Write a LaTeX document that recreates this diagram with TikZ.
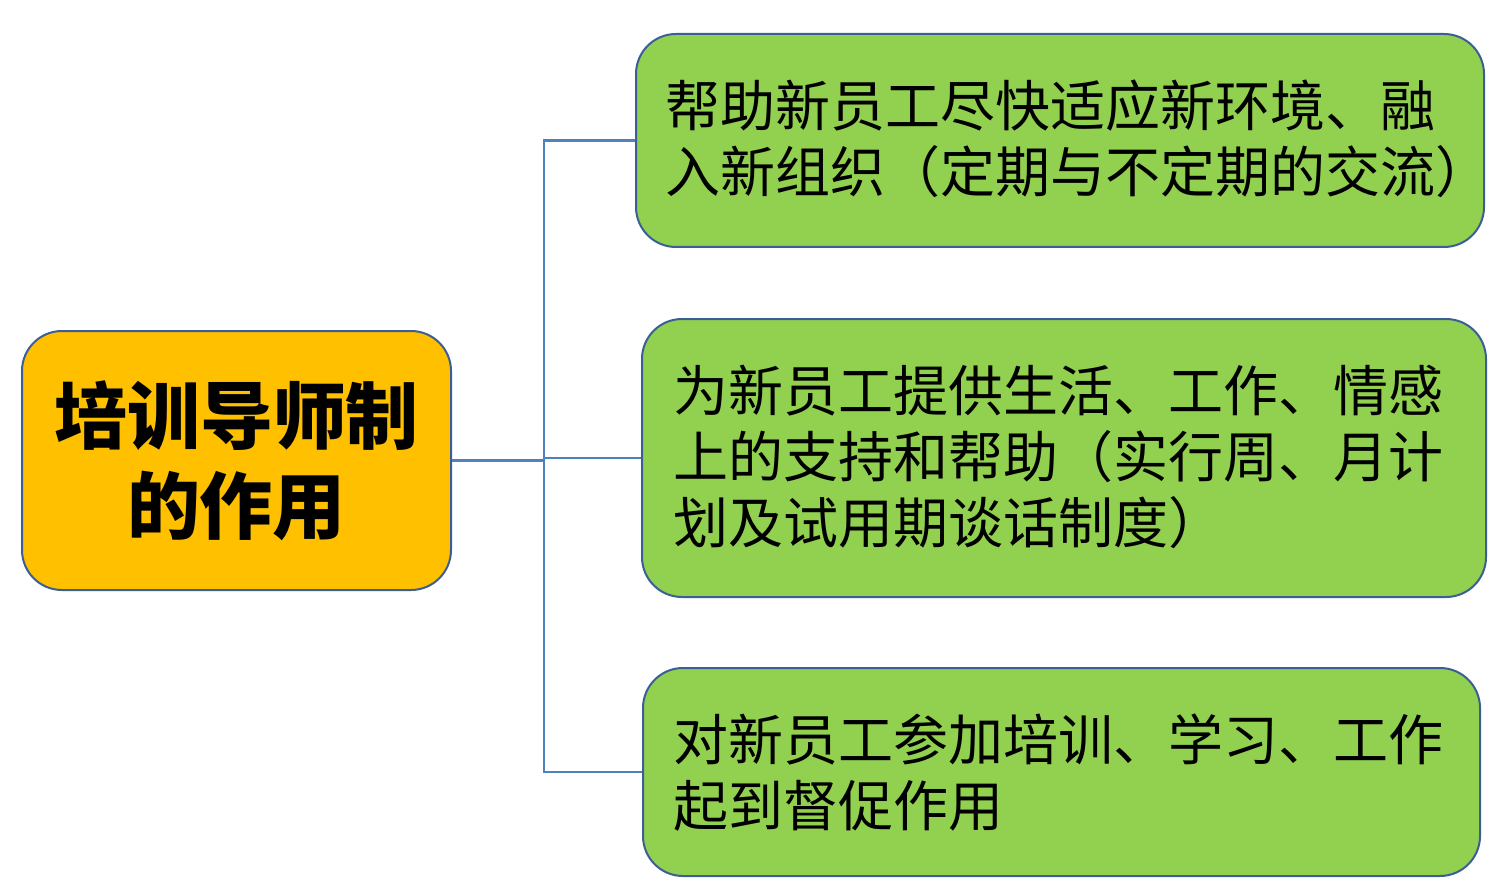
\documentclass[tikz,border=0pt]{standalone}
\usepackage{fontspec}
\newfontfamily\cjk{Noto Sans CJK SC}
\definecolor{bordc}{HTML}{3B5E96}
\definecolor{linec}{HTML}{4F81BD}
\definecolor{titlef}{HTML}{FFC000}
\definecolor{greenf}{HTML}{92D050}
\tikzset{
  titlebox/.style={draw=bordc, line width=2pt, fill=titlef, rounded corners=40pt,
    minimum width=429pt, minimum height=259pt, align=center,
    font=\cjk\bfseries\fontsize{73pt}{90pt}\selectfont, inner sep=0pt},
  greenbox/.style={draw=bordc, line width=2pt, fill=greenf, rounded corners=40pt, inner sep=0pt},
  boxtext/.style={anchor=west, align=left, inner sep=0pt,
    font=\cjk\fontsize{55pt}{66pt}\selectfont},
  conn/.style={draw=linec, line width=2.5pt}
}
\begin{document}
\begin{tikzpicture}[x=1pt,y=-1pt]
\useasboundingbox (0,0) rectangle (1508,896);
\node[titlebox] (L) at (236.5,460.5) {培训导师制\\的作用};
\node[greenbox, minimum width=848pt, minimum height=213pt] (B1) at (1060,140.5) {};
\node[greenbox, minimum width=844pt, minimum height=278pt] (B2) at (1064,458) {};
\node[greenbox, minimum width=837pt, minimum height=208pt] (B3) at (1061.5,772) {};
\node[boxtext] (T1) at (665,139) {帮助新员工尽快适应新环境、融\\入新组织（定期与不定期的交流）};
\node[boxtext] (T2) at (673,457) {为新员工提供生活、工作、情感\\上的支持和帮助（实行周、月计\\划及试用期谈话制度）};
\node[boxtext] (T3) at (673,772.5) {对新员工参加培训、学习、工作\\起到督促作用};
\coordinate (J) at (544,460.5);
\draw[conn] (L.east) -- (J);
\draw[conn] (J) |- (B1.west);
\draw[conn] (J) |- (B2.west);
\draw[conn] (J) |- (B3.west);
\end{tikzpicture}
\end{document}
